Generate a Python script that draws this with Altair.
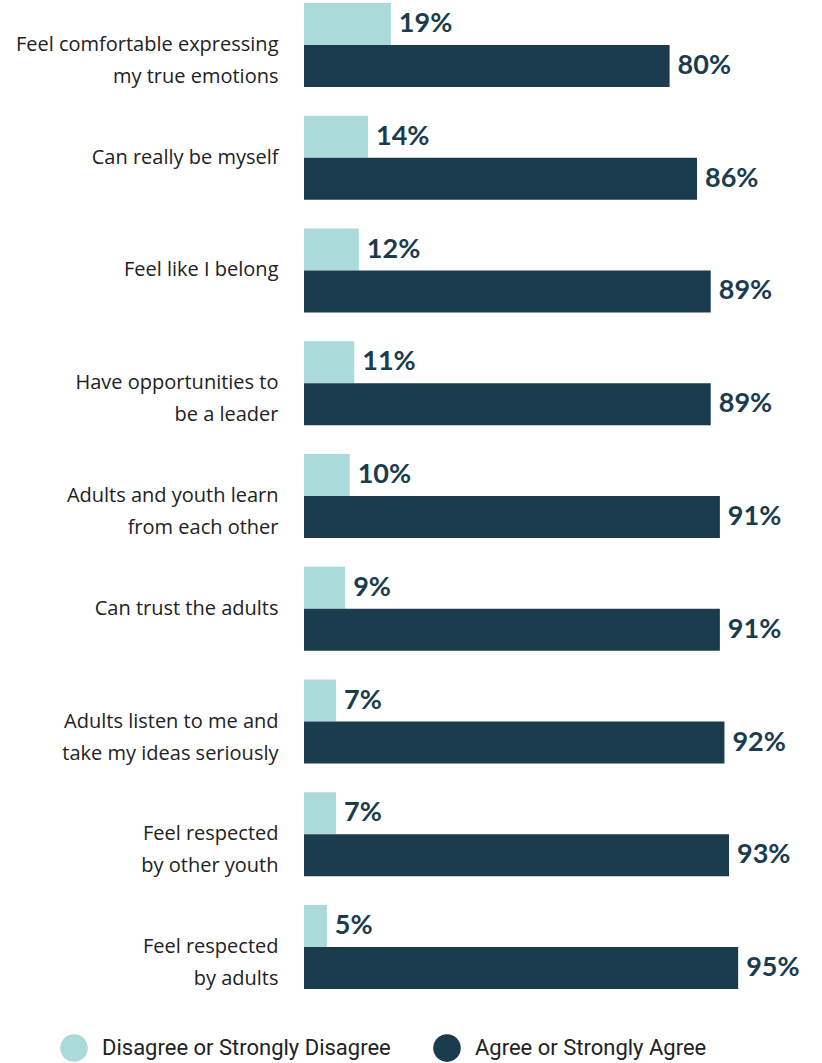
import altair as alt
import pandas as pd

categories = [
    "Feel comfortable expressing|my true emotions",
    "Can really be myself",
    "Feel like I belong",
    "Have opportunities to|be a leader",
    "Adults and youth learn|from each other",
    "Can trust the adults",
    "Adults listen to me and|take my ideas seriously",
    "Feel respected|by other youth",
    "Feel respected|by adults",
]
disagree = [19, 14, 12, 11, 10, 9, 7, 7, 5]
agree = [80, 86, 89, 89, 91, 91, 92, 93, 95]
series = ["Disagree or Strongly Disagree", "Agree or Strongly Agree"]
colors = ["#aadada", "#1a3c4e"]

rows = []
for c, d, a in zip(categories, disagree, agree):
    rows.append({"cat": c, "series": series[0], "value": d, "label": f"{d}%"})
    rows.append({"cat": c, "series": series[1], "value": a, "label": f"{a}%"})
df = pd.DataFrame(rows)

y_enc = alt.Y(
    "cat:N",
    sort=categories,
    scale=alt.Scale(paddingInner=0.255, paddingOuter=0),
    axis=alt.Axis(
        title=None,
        domain=False,
        ticks=False,
        labelPadding=26,
        labelFontSize=20,
        labelFont="Open Sans",
        labelColor="#222222",
        labelLineHeight=32,
        labelLimit=300,
        labelExpr="split(datum.label, '|')",
    ),
)
yoff = alt.YOffset("series:N", sort=series)
x_enc = alt.X("value:Q", scale=alt.Scale(domain=[0, 100]), axis=None)

bars = alt.Chart(df).mark_bar(cornerRadius=0).encode(
    y=y_enc,
    yOffset=yoff,
    x=x_enc,
    color=alt.Color(
        "series:N",
        sort=series,
        scale=alt.Scale(domain=series, range=colors),
        legend=alt.Legend(
            title=None,
            orient="none",
            direction="horizontal",
            legendX=-244,
            legendY=1031,
            symbolType="circle",
            symbolSize=760,
            symbolStrokeWidth=0,
            labelFont="Roboto",
            labelFontSize=22,
            labelColor="#222222",
            labelOffset=14,
            columnPadding=42,
            labelLimit=400,
        ),
    ),
)

text = alt.Chart(df).mark_text(
    align="left", baseline="middle", dx=8, font="Lato", fontWeight="bold",
    fontSize=27, color="#1a3c4e"
).encode(
    y=alt.Y("cat:N", sort=categories),
    yOffset=yoff,
    x="value:Q",
    text="label:N",
)

chart = alt.layer(bars, text).properties(
    width=457,
    height=986,
    background="white",
    autosize=alt.AutoSizeParams(type="none"),
    padding={"left": 304, "top": 3, "right": 60, "bottom": 74},
).configure_view(strokeWidth=0, stroke="transparent")

chart.save("out.html", embed_options={"renderer": "svg", "actions": False})
